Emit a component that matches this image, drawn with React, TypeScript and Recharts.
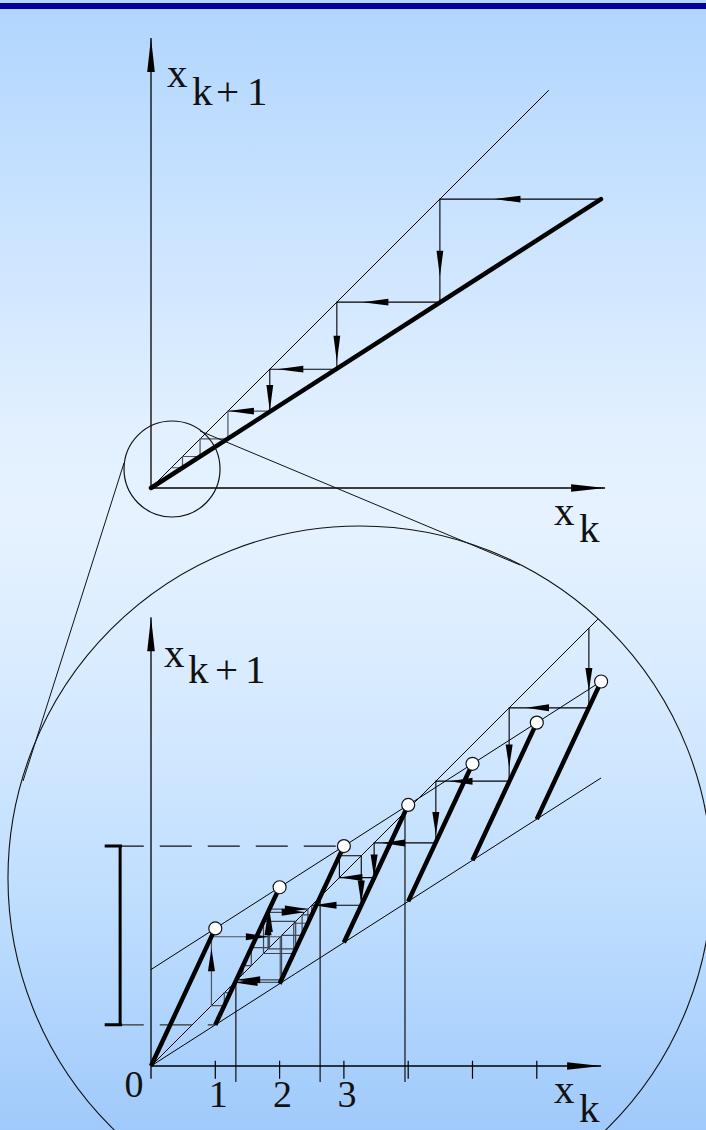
import React from 'react';
import { ComposedChart, XAxis, YAxis, Line, Scatter, ReferenceDot } from 'recharts';

const W = 706;
const H = 1130;

// ---------- upper diagram: linear contraction x(k+1) = a * x(k) ----------
const topMapLine = [{ x: 0, y: 0 }, { x: 10, y: 6.42 }];
const topDiagonal = [{ x: 0, y: 0 }, { x: 8.84, y: 8.84 }];
const topAxisX = [{ x: 0, y: 0 }, { x: 10.09, y: 0 }];
const topAxisY = [{ x: 0, y: 0 }, { x: 0, y: 10 }];
const topOrbit = [10, 6.42, 4.13, 2.64, 1.71, 1.09, 0.7, 0.45];
const topOrbitArrowSegs = [0, 1, 2, 3, 4, 5, 6];
const topLensCenter = { x: 0.467, y: 0.422 };

// ---------- lower diagram: piecewise map with jumps ----------
const branchStart = [0, 1, 2, 3, 4, 5, 6];
const branchLow = [0, 0.64, 1.28, 1.92, 2.56, 3.2, 3.84];
const branchHigh = [2.14, 2.78, 3.42, 4.06, 4.7, 5.34, 5.98];
const upperBound = [{ x: 0, y: 1.5 }, { x: 7, y: 5.98 }];
const lowerBound = [{ x: 0, y: 0 }, { x: 7, y: 4.48 }];
const lowDiagonal = [{ x: 0, y: 0 }, { x: 6.95, y: 6.95 }];
const lowAxisX = [{ x: 0, y: 0 }, { x: 7.0, y: 0 }];
const lowAxisY = [{ x: 0, y: -0.2 }, { x: 0, y: 6.98 }];
const tickValues = [1, 2, 3, 4, 5, 6];
const tickLabels = ['1', '2', '3'];
const fixedPoints = [1.32, 2.63, 3.95];
const invariantInterval = [0.64, 3.42];
const orbitA = [6.81, 5.57, 4.43, 3.47, 2.93, 3.27, 2.5, 2.35, 2.03, 1.34, 1.37, 1.43, 1.56, 1.84, 2.44, 2.22, 1.75, 2.25, 1.82, 2.39];
const orbitAArrowSegs = [0, 1, 2, 3, 4, 5, 6, 7, 10, 11, 17, 26, 27, 36, 37];
const orbitB = [1.307, 1.298, 1.278, 1.234, 1.14, 0.94, 2.01, 1.3];
const orbitBArrowSegs = [10, 11, 13];
const bigLensCenter = { x: 3.25, y: 2.924 };
// lines joining the small lens to the enlarged view
const lensLinks: [number, number, number, number][] = [
  [-0.42, 9.378, -1.99, 4.432],
  [0.762, 9.876, 5.739, 7.792],
];

// ---------- layout of the two coordinate frames on the page ----------
const TOP_FRAME = { ox: 151, oy: 488, unit: 45 };
const LOW_FRAME = { ox: 151, oy: 1066, unit: 64.3 };

type Frame = { ox: number; oy: number; unit: number };
type Pt = { x: number; y: number | null };

const frameDomain = (f: Frame) => ({
  x: [-f.ox / f.unit, (W - f.ox) / f.unit] as [number, number],
  y: [-(H - f.oy) / f.unit, f.oy / f.unit] as [number, number],
});

const joinSegments = (segs: [number, number, number, number][]): Pt[] => {
  const out: Pt[] = [];
  segs.forEach(([x1, y1, x2, y2], i) => {
    if (i) out.push({ x: x1, y: null });
    out.push({ x: x1, y: y1 }, { x: x2, y: y2 });
  });
  return out;
};

const cobwebPath = (orbit: number[], fromDiagonal: boolean) => {
  const pts: { x: number; y: number }[] = [];
  if (fromDiagonal) pts.push({ x: orbit[0], y: orbit[0] });
  for (let i = 0; i < orbit.length - 1; i++) {
    pts.push({ x: orbit[i], y: orbit[i + 1] });
    pts.push({ x: orbit[i + 1], y: orbit[i + 1] });
  }
  return pts;
};

const arrowTips = (pts: { x: number; y: number }[], segs: number[], unit: number, lenPx: number) =>
  segs.map((j) => {
    const a = pts[j];
    const b = pts[j + 1];
    const dx = b.x - a.x;
    const dy = b.y - a.y;
    const len = Math.hypot(dx, dy);
    const d = Math.min(len, len / 2 + lenPx / unit);
    return { x: a.x + (dx / len) * d, y: a.y + (dy / len) * d, ux: dx / len, uy: dy / len };
  });

const arrowShape = (len: number, half: number) => (props: any) => {
  const { cx, cy, payload } = props;
  if (cx == null || cy == null) return <g />;
  const ux = payload.ux;
  const uy = -payload.uy;
  const bx = cx - ux * len;
  const by = cy - uy * len;
  const nx = -uy * half;
  const ny = ux * half;
  return <polygon points={`${cx},${cy} ${bx + nx},${by + ny} ${bx - nx},${by - ny}`} fill="#000" />;
};

const openCircle = (props: any) => {
  const { cx, cy } = props;
  if (cx == null || cy == null) return <g />;
  return <circle cx={cx} cy={cy} r={6.5} fill="#ffffff" stroke="#111" strokeWidth={1.2} />;
};

const SERIF = "'Liberation Serif', 'Times New Roman', serif";

const tickLabelShape = (props: any) => {
  const { cx, cy, payload } = props;
  if (cx == null || cy == null) return <g />;
  return (
    <text x={cx + 3} y={cy + 41} textAnchor="middle" fontFamily={SERIF} fontSize={38} fill="#111">
      {payload.label}
    </text>
  );
};

const line = (key: string, data: Pt[], stroke: string, width: number, extra: Record<string, any> = {}) => (
  <Line
    key={key}
    data={data}
    dataKey="y"
    stroke={stroke}
    strokeWidth={width}
    dot={false}
    activeDot={false}
    isAnimationActive={false}
    {...extra}
  />
);

function Frame({ frame, children }: { frame: Frame; children: React.ReactNode }) {
  const d = frameDomain(frame);
  return (
    <ComposedChart
      width={W}
      height={H}
      margin={{ top: 0, right: 0, bottom: 0, left: 0 }}
      style={{ position: 'absolute', left: 0, top: 0 }}
    >
      <XAxis type="number" dataKey="x" domain={d.x} hide allowDataOverflow />
      <YAxis type="number" dataKey="y" domain={d.y} hide allowDataOverflow />
      {children}
    </ComposedChart>
  );
}

function UpperDiagram() {
  const path = cobwebPath(topOrbit, false);
  const arrows = arrowTips(path, topOrbitArrowSegs, TOP_FRAME.unit, 26);
  const axisArrows = [
    { x: 10.09, y: 0, ux: 1, uy: 0 },
    { x: 0, y: 10, ux: 0, uy: 1 },
  ];
  return (
    <Frame frame={TOP_FRAME}>
      {line('ax', topAxisX, '#000', 1.3)}
      {line('ay', topAxisY, '#000', 1.3)}
      {line('diag', topDiagonal, '#000', 1)}
      {line('web1', path.slice(0, 7), '#000', 1.1)}
      {line('web2', path.slice(6), '#4a5462', 1.2)}
      {line('map', topMapLine, '#000', 4.5, { strokeLinecap: 'round' })}
      <ReferenceDot x={topLensCenter.x} y={topLensCenter.y} r={48} fill="none" stroke="#111" strokeWidth={1.2} />
      <Scatter data={arrows} shape={arrowShape(26, 3.4)} isAnimationActive={false} />
      <Scatter data={axisArrows} shape={arrowShape(34, 3.8)} isAnimationActive={false} />
    </Frame>
  );
}

function LowerDiagram() {
  const pathA = cobwebPath(orbitA, true);
  const pathB = cobwebPath(orbitB, true);
  const arrows = [
    ...arrowTips(pathA, orbitAArrowSegs, LOW_FRAME.unit, 23),
    ...arrowTips(pathB, orbitBArrowSegs, LOW_FRAME.unit, 23),
  ];
  const axisArrows = [
    { x: 7.0, y: 0, ux: 1, uy: 0 },
    { x: 0, y: 6.98, ux: 0, uy: 1 },
  ];
  const branches = joinSegments(branchStart.map((x, i) => [x, branchLow[i], x + 1, branchHigh[i]]));
  const jumps = branchStart.map((x, i) => ({ x: x + 1, y: branchHigh[i] }));
  const ticks = joinSegments(tickValues.map((t) => [t, 0.08, t, -0.2]));
  const fixedLines = joinSegments(fixedPoints.map((p) => [p, -0.25, p, p]));
  const [lo, hi] = invariantInterval;
  const bracket = joinSegments([
    [-0.48, lo, -0.48, hi],
    [-0.72, lo, -0.45, lo],
    [-0.72, hi, -0.45, hi],
  ]);
  const labelPts = tickLabels.map((label, i) => ({ x: i + 1, y: 0, label }));
  return (
    <Frame frame={LOW_FRAME}>
      {line('links', joinSegments(lensLinks), '#111', 1)}
      <ReferenceDot x={bigLensCenter.x} y={bigLensCenter.y} r={352} fill="none" stroke="#111" strokeWidth={1.1} />
      {line('ax', lowAxisX, '#000', 1.3)}
      {line('ay', lowAxisY, '#000', 1.3)}
      {line('ticks', ticks, '#000', 1.2)}
      {line('diag', lowDiagonal, '#000', 1)}
      {line('ub', upperBound, '#000', 1)}
      {line('lb', lowerBound, '#000', 1)}
      {line('fix', fixedLines, '#000', 1.1)}
      {line('dashHi', [{ x: -0.61, y: hi }, { x: 3, y: hi }], '#111', 1.1, { strokeDasharray: '32 16' })}
      {line('dashLo', [{ x: -0.61, y: lo }, { x: 1, y: lo }], '#333', 1.1, { strokeDasharray: '32 16' })}
      {line('bracket', bracket, '#000', 3)}
      {line('webB', pathB, '#4a5462', 1.2)}
      {line('webA2', pathA.slice(12), '#3c4552', 1.2)}
      {line('webA1', pathA.slice(0, 13), '#000', 1.1)}
      {line('branches', branches, '#000', 4.5)}
      <Scatter data={jumps} shape={openCircle} isAnimationActive={false} />
      <Scatter data={arrows} shape={arrowShape(23, 3.5)} isAnimationActive={false} />
      <Scatter data={axisArrows} shape={arrowShape(34, 3.8)} isAnimationActive={false} />
      <Scatter data={labelPts} shape={tickLabelShape} isAnimationActive={false} />
    </Frame>
  );
}

// axis titles and the origin label
const titles = [
  { t: 'x', x: 167, y: 87 },
  { t: 'k', x: 192, y: 105 },
  { t: '+', x: 216, y: 105 },
  { t: '1', x: 247, y: 105 },
  { t: 'x', x: 554, y: 525 },
  { t: 'k', x: 579, y: 542 },
  { t: 'x', x: 164, y: 667 },
  { t: 'k', x: 188, y: 683 },
  { t: '+', x: 215, y: 683 },
  { t: '1', x: 245, y: 683 },
  { t: 'x', x: 554, y: 1103 },
  { t: 'k', x: 579, y: 1122 },
];

export default function App() {
  return (
    <div
      style={{
        position: 'absolute',
        left: 0,
        top: 0,
        width: W,
        height: H,
        overflow: 'hidden',
        background:
          'linear-gradient(to bottom, #b0d5fe 0%, #c8e2ff 18%, #e2f0ff 38%, #e6f2ff 46%, #d6eaff 62%, #bcdcfe 82%, #a0cafb 100%)',
      }}
    >
      <div style={{ position: 'absolute', left: 0, top: 3, width: W, height: 6, background: '#00009e' }} />
      <UpperDiagram />
      <LowerDiagram />
      <svg
        width={W}
        height={H}
        style={{ position: 'absolute', left: 0, top: 0, pointerEvents: 'none' }}
        fontFamily={SERIF}
        fontSize={41}
        fill="#111"
      >
        {titles.map((d, i) => (
          <text key={i} x={d.x} y={d.y}>
            {d.t}
          </text>
        ))}
        <text x={134} y={1097} textAnchor="middle" fontSize={38}>
          0
        </text>
      </svg>
    </div>
  );
}
